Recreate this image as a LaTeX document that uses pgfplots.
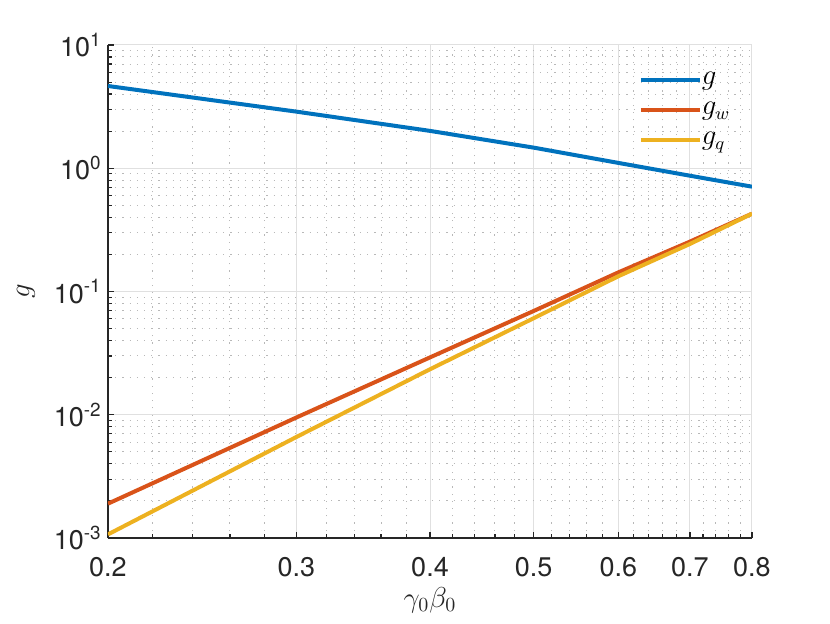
\documentclass[border=0pt]{standalone}
\usepackage{fontspec}
\setmainfont{TeX Gyre Heros}
\usepackage{pgfplots}
\pgfplotsset{compat=1.18}
\definecolor{mblue}{HTML}{0072BD}
\definecolor{morange}{HTML}{D95319}
\definecolor{myellow}{HTML}{EDB120}
\definecolor{axgray}{HTML}{262626}
\begin{document}
\begin{tikzpicture}
\begin{axis}[
  scale only axis, width=322pt, height=246.5pt,
  xmode=log, ymode=log,
  xmin=0.2, xmax=0.8, ymin=1e-3, ymax=10,
  axis x line*=bottom, axis y line*=left,
  axis line style={axgray, line width=0.6pt},
  tick align=inside,
  tick style={axgray, line width=0.6pt},
  major tick length=3pt, minor tick length=2pt,
  xtick={0.2,0.3,0.4,0.5,0.6,0.7,0.8},
  xticklabels={0.2,0.3,0.4,0.5,0.6,0.7,0.8},
  minor xtick={0.22,0.24,0.26,0.28,0.32,0.34,0.36,0.38,0.42,0.44,0.46,0.48,0.52,0.54,0.56,0.58,0.62,0.64,0.66,0.68,0.72,0.74,0.76,0.78},
  ytick={1e-3,1e-2,1e-1,1,10},
  yticklabels={10\textsuperscript{-3},10\textsuperscript{-2},10\textsuperscript{-1},10\textsuperscript{0},10\textsuperscript{1}},
  minor ytick={2e-3,3e-3,4e-3,5e-3,6e-3,7e-3,8e-3,9e-3,2e-2,3e-2,4e-2,5e-2,6e-2,7e-2,8e-2,9e-2,0.2,0.3,0.4,0.5,0.6,0.7,0.8,0.9,2,3,4,5,6,7,8,9},
  grid=both,
  major grid style={line width=0.5pt, color=black!12},
  minor grid style={line width=0.5pt, color=black!28, dash pattern=on 0.6pt off 3pt},
  tick label style={font=\fontsize{13.5}{16}\selectfont, text=axgray},
  xticklabel style={inner sep=0pt, anchor=north, yshift=-9.5pt},
  yticklabel style={inner sep=0pt, anchor=east, xshift=-3pt},
  xlabel={$\gamma_0\beta_0$}, ylabel={$g$},
  label style={font=\fontsize{14.5}{17}\selectfont, text=axgray},
  xlabel style={at={(axis description cs:0.5,-0.1258)}, anchor=center},
  ylabel style={at={(axis description cs:-0.1273,0.5)}, anchor=center},
  legend style={draw=none, fill=none, inner sep=0pt, outer sep=0pt,
    at={(axis description cs:0.8245,0.9594)}, anchor=north west,
    font=\fontsize{13.5}{16}\selectfont,
    nodes={inner sep=0pt, minimum height=15pt},
    /tikz/every even column/.append style={column sep=3pt},
    row sep=0pt},
  legend cell align=left,
  legend image code/.code={\draw[#1] (0pt,0pt) -- (29.5pt,0pt);},
]
\addplot[mblue, line width=2pt] coordinates {
  (0.2,4.65) (0.3,2.88) (0.4,2.01) (0.5,1.47) (0.6,1.105) (0.7,0.87) (0.8,0.709)};
\addlegendentry{$g$}
\addplot[morange, line width=2pt] coordinates {
  (0.2,1.9e-3) (0.3,9.5e-3) (0.4,0.0292) (0.5,0.0695) (0.6,0.143) (0.7,0.254) (0.8,0.428)};
\addlegendentry{$g_w$}
\addplot[myellow, line width=2pt] coordinates {
  (0.2,1.07e-3) (0.3,6.6e-3) (0.4,0.0234) (0.5,0.0607) (0.6,0.133) (0.7,0.243) (0.8,0.428)};
\addlegendentry{$g_q$}
\end{axis}
\pgfresetboundingbox
\path[use as bounding box] ([shift={(-54pt,-42.5pt)}]current axis.south west) rectangle ([shift={(39pt,22.5pt)}]current axis.north east);
\end{tikzpicture}
\end{document}
